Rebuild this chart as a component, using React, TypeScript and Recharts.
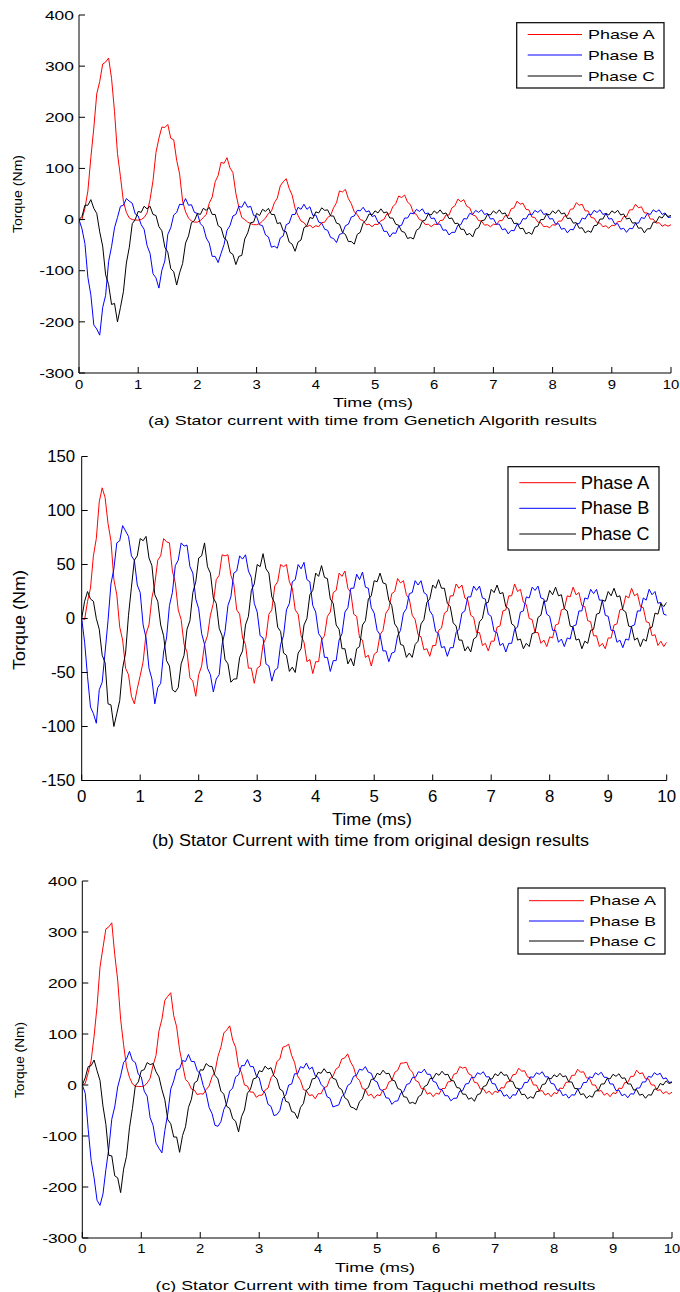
import React from 'react';
import { LineChart, Line, XAxis, YAxis } from 'recharts';

// sample instants, ms (one reading every 0.05 ms from 0 to 10)
const TIME_MS = Array.from({ length: 201 }, (_, i) => Math.round(i * 5) / 100);
const X_TICKS = [0, 1, 2, 3, 4, 5, 6, 7, 8, 9, 10];
const Y_TICKS_300 = [-300, -200, -100, 0, 100, 200, 300, 400];
const Y_TICKS_150 = [-150, -100, -50, 0, 50, 100, 150];
const PHASES = ['Phase A', 'Phase B', 'Phase C'];
const COLORS = ['#ff0000', '#0000ff', '#000000'];

// (a) Genetic algorithm, torque per sample
const GA_A = [
  0, 0, 22, 56, 121, 179, 246, 270, 304, 308, 316, 276, 211, 129, 84, 36, 14, 3, 0, -1,
  -1, 0, 4, 13, 39, 76, 131, 159, 181, 180, 186, 159, 156, 116, 89, 36, 15, 3, -3, -5,
  -5, -2, 4, 10, 32, 44, 74, 86, 112, 110, 121, 101, 92, 51, 24, 4, 0, -5, -8, -10,
  -10, -8, -3, 3, 12, 16, 33, 42, 66, 74, 80, 61, 48, 22, 8, -3, -6, -14, -11, -16,
  -12, -14, -6, -5, 4, 8, 23, 33, 56, 54, 59, 41, 31, 15, 10, 0, -2, -10, -9, -14,
  -9, -10, -2, 0, 11, 11, 25, 31, 46, 43, 48, 34, 29, 13, 10, 0, -2, -10, -9, -14,
  -9, -10, -2, -1, 9, 9, 23, 27, 40, 35, 39, 26, 23, 9, 7, -2, -3, -11, -10, -14,
  -9, -10, -2, -2, 8, 7, 21, 23, 36, 30, 32, 20, 19, 5, 4, -5, -6, -14, -13, -16,
  -10, -11, -3, -3, 7, 7, 20, 21, 33, 28, 30, 17, 17, 4, 3, -6, -7, -14, -12, -17,
  -11, -12, -4, -4, 6, 6, 19, 19, 30, 23, 25, 13, 13, 1, 1, -7, -6, -13, -10, -13,
  -10,
];
const GA_B = [
  0, -18, -47, -113, -147, -206, -214, -226, -172, -148, -82, -53, -16, 4, 26, 28, 41, 36, 32, 11,
  7, -10, -19, -51, -66, -106, -114, -134, -99, -81, -29, -16, 9, 14, 30, 29, 41, 28, 29, 14,
  12, -8, -14, -36, -46, -72, -72, -84, -66, -49, -21, -12, 7, 10, 26, 24, 35, 24, 26, 8,
  6, -10, -12, -30, -34, -54, -52, -56, -36, -32, -10, -7, 10, 10, 24, 20, 30, 20, 25, 8,
  9, -5, -7, -19, -21, -35, -37, -45, -29, -27, -12, -9, 5, 7, 18, 17, 24, 15, 17, 6,
  8, -5, -9, -23, -23, -34, -26, -27, -13, -11, 3, 3, 13, 11, 20, 16, 21, 11, 13, 2,
  3, -9, -9, -21, -20, -30, -25, -25, -11, -10, 2, 1, 12, 10, 18, 14, 19, 10, 12, 1,
  2, -9, -9, -20, -18, -28, -21, -22, -9, -9, 2, 1, 11, 9, 18, 14, 19, 10, 12, 1,
  2, -9, -8, -19, -17, -26, -19, -20, -8, -8, 3, 1, 11, 9, 18, 14, 19, 10, 12, 1,
  2, -9, -8, -19, -17, -25, -17, -18, -7, -7, 4, 2, 12, 10, 19, 15, 19, 10, 13, 4,
  5,
];
const GA_C = [
  0, 6, 28, 28, 39, 22, 12, -24, -52, -108, -127, -166, -164, -200, -172, -141, -85, -54, -8, 0,
  16, 14, 26, 21, 26, 10, 8, -14, -22, -54, -64, -96, -102, -128, -104, -86, -46, -32, -6, -2,
  12, 10, 22, 18, 24, 10, 10, -12, -16, -36, -41, -64, -68, -88, -72, -70, -38, -26, -6, -5,
  12, 8, 20, 16, 22, 10, 10, -8, -6, -22, -24, -44, -48, -62, -44, -40, -16, -12, 4, 2,
  15, 13, 23, 18, 19, 7, 7, -7, -9, -25, -29, -43, -43, -48, -29, -25, -7, -1, 11, 9,
  17, 13, 21, 13, 15, 3, 3, -9, -11, -23, -25, -37, -35, -38, -21, -17, -3, -1, 11, 9,
  17, 12, 19, 11, 13, 2, 3, -8, -7, -19, -19, -30, -27, -34, -19, -16, -2, -1, 10, 9,
  17, 12, 19, 11, 13, 2, 3, -8, -7, -18, -17, -28, -25, -29, -15, -13, 0, 0, 11, 9,
  17, 12, 19, 11, 13, 2, 3, -7, -6, -17, -16, -26, -22, -25, -12, -11, 1, 1, 12, 9,
  17, 13, 18, 9, 11, 1, 3, -7, -6, -17, -16, -26, -18, -18, -5, -5, 6, 3, 11, 6,
  8,
];

// (b) original design
const OD_A = [
  0, -1, 16, 28, 58, 74, 108, 121, 112, 88, 72, 36, 22, -8, -20, -46, -52, -72, -79, -65,
  -53, -40, -14, -6, 19, 32, 54, 58, 74, 71, 70, 44, 33, 8, -1, -24, -31, -55, -58, -72,
  -52, -44, -24, -16, 3, 14, 36, 40, 59, 58, 59, 40, 32, 8, 4, -18, -24, -46, -46, -60,
  -46, -44, -24, -18, 4, 8, 30, 34, 50, 48, 50, 34, 28, 8, 4, -16, -22, -40, -38, -51,
  -40, -40, -20, -16, 2, 6, 24, 26, 42, 39, 44, 28, 24, 4, 2, -18, -20, -36, -34, -44,
  -33, -31, -15, -11, 5, 9, 23, 25, 37, 33, 35, 22, 18, 3, -1, -15, -17, -29, -28, -35,
  -25, -25, -11, -9, 5, 7, 21, 21, 32, 28, 31, 19, 17, 3, 1, -13, -13, -25, -23, -30,
  -21, -21, -8, -7, 7, 8, 21, 21, 32, 25, 27, 15, 13, 0, -1, -13, -13, -23, -20, -26,
  -17, -18, -6, -5, 8, 9, 21, 20, 29, 22, 24, 12, 11, -2, -3, -16, -16, -26, -23, -28,
  -18, -18, -6, -5, 8, 9, 21, 19, 28, 21, 23, 11, 10, -3, -4, -16, -15, -25, -21, -26,
  -22,
];
const OD_B = [
  0, -22, -54, -82, -88, -97, -66, -59, -31, -2, 32, 46, 70, 72, 86, 81, 76, 58, 54, 31,
  24, -6, -18, -46, -56, -79, -64, -60, -31, -18, 12, 24, 49, 54, 70, 67, 68, 48, 42, 18,
  9, -14, -24, -46, -52, -68, -56, -52, -24, -12, 12, 20, 42, 44, 58, 55, 59, 44, 38, 14,
  6, -16, -18, -42, -44, -58, -48, -46, -24, -16, 8, 14, 34, 36, 50, 46, 52, 36, 34, 12,
  6, -14, -18, -36, -36, -49, -39, -39, -20, -14, 6, 10, 28, 28, 41, 36, 43, 29, 28, 10,
  5, -11, -15, -30, -30, -40, -32, -31, -16, -11, 5, 9, 23, 24, 35, 31, 35, 24, 22, 7,
  3, -12, -14, -27, -26, -35, -27, -27, -13, -10, 5, 7, 20, 20, 30, 26, 30, 19, 18, 4,
  2, -12, -13, -25, -23, -31, -23, -23, -10, -8, 6, 7, 20, 19, 29, 26, 30, 19, 18, 4,
  2, -11, -11, -22, -19, -26, -18, -19, -7, -6, 7, 7, 19, 18, 27, 23, 27, 17, 17, 3,
  2, -11, -11, -22, -20, -27, -19, -20, -7, -6, 7, 7, 19, 17, 27, 22, 25, 14, 15, 4,
  3,
];
const OD_C = [
  0, 16, 25, 18, 16, 0, -10, -34, -41, -79, -80, -100, -88, -76, -46, -32, 3, 29, 54, 58,
  74, 72, 76, 56, 49, 22, 16, -6, -16, -39, -44, -66, -68, -64, -42, -34, -10, -2, 24, 34,
  56, 58, 70, 48, 42, 19, 14, -9, -16, -38, -42, -59, -56, -56, -36, -30, -6, 2, 26, 32,
  50, 48, 60, 46, 42, 20, 14, -8, -12, -32, -34, -49, -45, -50, -32, -28, -6, 0, 22, 26,
  42, 39, 49, 38, 37, 18, 14, -6, -10, -28, -28, -42, -37, -44, -28, -26, -6, -2, 18, 21,
  35, 34, 42, 33, 32, 17, 12, -5, -9, -24, -25, -36, -32, -36, -24, -21, -5, -1, 15, 18,
  31, 28, 36, 28, 28, 14, 11, -4, -7, -20, -20, -30, -26, -31, -19, -17, -3, 0, 14, 15,
  27, 24, 31, 23, 24, 11, 9, -5, -7, -20, -19, -28, -23, -26, -14, -13, 1, 3, 16, 16,
  26, 22, 29, 21, 22, 9, 7, -7, -8, -20, -19, -28, -21, -23, -11, -10, 4, 5, 17, 16,
  25, 21, 28, 20, 21, 8, 6, -7, -8, -20, -18, -26, -19, -21, -9, -8, 5, 4, 14, 11,
  15,
];

// (c) Taguchi method
const TG_A = [
  0, 3, 24, 48, 96, 154, 231, 269, 306, 310, 318, 256, 206, 129, 79, 36, 15, 2, -2, -3,
  -3, -2, 4, 13, 39, 58, 106, 129, 166, 174, 181, 136, 114, 69, 40, 11, 5, -8, -10, -19,
  -17, -18, -9, -2, 16, 26, 56, 74, 102, 108, 116, 88, 74, 36, 24, 0, -2, -14, -14, -24,
  -20, -20, -10, -6, 14, 22, 46, 51, 74, 76, 80, 58, 44, 18, 9, -9, -11, -21, -19, -27,
  -17, -17, -5, -3, 13, 17, 31, 35, 51, 53, 61, 45, 35, 15, 9, -7, -9, -21, -18, -26,
  -19, -21, -9, -8, 6, 9, 25, 29, 43, 43, 45, 31, 25, 9, 6, -7, -7, -18, -15, -23,
  -16, -18, -7, -7, 6, 7, 21, 23, 36, 33, 35, 22, 19, 5, 4, -8, -7, -16, -12, -19,
  -12, -15, -5, -6, 6, 7, 20, 21, 33, 27, 28, 16, 14, 0, 0, -12, -11, -20, -16, -23,
  -15, -17, -6, -7, 5, 6, 19, 19, 31, 25, 26, 14, 13, 0, 0, -12, -11, -20, -16, -23,
  -15, -17, -6, -7, 5, 5, 17, 17, 29, 22, 24, 12, 12, 0, 0, -11, -9, -17, -13, -18,
  -14,
];
const TG_B = [
  0, -16, -87, -148, -182, -226, -236, -214, -166, -124, -67, -43, -4, 18, 44, 51, 66, 48, 44, 21,
  16, -12, -22, -64, -79, -114, -124, -133, -89, -56, -8, 8, 30, 32, 48, 46, 60, 46, 46, 28,
  22, -1, -16, -44, -56, -79, -81, -72, -48, -36, -12, -6, 16, 20, 38, 38, 50, 36, 36, 18,
  14, -10, -16, -38, -42, -60, -58, -50, -26, -20, 0, 2, 22, 22, 36, 33, 43, 31, 35, 18,
  15, 1, -5, -23, -26, -43, -41, -39, -23, -17, -1, 3, 17, 19, 31, 29, 36, 25, 23, 9,
  6, -9, -11, -25, -26, -38, -32, -31, -16, -13, 1, 3, 15, 15, 26, 24, 31, 21, 21, 7,
  5, -8, -9, -21, -21, -31, -26, -26, -12, -11, 2, 3, 15, 14, 24, 21, 26, 16, 16, 3,
  2, -11, -11, -22, -19, -27, -19, -20, -8, -7, 5, 5, 16, 15, 24, 21, 26, 16, 16, 3,
  2, -10, -10, -21, -18, -26, -19, -20, -8, -7, 5, 5, 16, 14, 24, 20, 25, 15, 15, 2,
  2, -11, -10, -21, -18, -25, -17, -18, -6, -6, 6, 6, 17, 15, 24, 20, 23, 12, 14, 5,
  6,
];
const TG_C = [
  0, 14, 36, 38, 49, 28, 9, -41, -77, -138, -139, -178, -182, -211, -165, -140, -84, -46, -1, 6,
  28, 30, 44, 40, 42, 26, 16, -9, -29, -68, -76, -102, -102, -132, -99, -82, -44, -28, 4, 8,
  30, 29, 42, 37, 36, 19, 12, -12, -18, -42, -46, -66, -71, -92, -62, -49, -16, -9, 12, 14,
  28, 26, 37, 31, 34, 18, 12, -8, -12, -32, -34, -52, -54, -66, -44, -36, -10, -6, 12, 13,
  25, 23, 32, 24, 25, 13, 11, -5, -9, -25, -29, -43, -45, -49, -33, -27, -9, -5, 11, 12,
  23, 20, 29, 22, 23, 10, 8, -7, -9, -23, -24, -36, -34, -37, -23, -19, -3, 0, 13, 13,
  23, 19, 27, 20, 21, 9, 8, -5, -6, -18, -18, -28, -25, -32, -19, -17, -3, -1, 12, 12,
  22, 18, 26, 19, 20, 8, 7, -6, -7, -19, -18, -27, -23, -26, -13, -12, 1, 2, 14, 12,
  20, 16, 23, 16, 18, 6, 6, -7, -7, -19, -17, -26, -21, -24, -12, -11, 2, 2, 13, 12,
  21, 17, 22, 13, 14, 2, 2, -10, -9, -20, -18, -26, -19, -20, -8, -8, 3, 0, 8, 3,
  5,
];

const FONT = '"Liberation Sans", Arial, Helvetica, sans-serif';

const AxisTick = (props: any) => {
  const { x, y, payload, size, sx, anchor } = props;
  return (
    <text
      x={0}
      y={0}
      transform={`translate(${x},${y}) scale(${sx},1)`}
      textAnchor={anchor}
      dominantBaseline="central"
      fontSize={size}
      fontFamily={FONT}
      fill="#000"
    >
      {payload.value}
    </text>
  );
};

interface PanelProps {
  top: number;
  height: number;
  margin: { top: number; right: number; bottom: number; left: number };
  yWidth: number;
  xHeight: number;
  yDomain: [number, number];
  yTicks: number[];
  series: number[][];
  yFont: number;
  ySx: number;
  yGap: number;
  xFont: number;
  xSx: number;
  xGap: number;
}

const Panel: React.FC<PanelProps> = (p) => {
  const data = TIME_MS.map((t, i) => ({ t, a: p.series[0][i], b: p.series[1][i], c: p.series[2][i] }));
  const keys = ['a', 'b', 'c'];
  return (
    <div style={{ position: 'absolute', left: 0, top: p.top }}>
      <LineChart width={680} height={p.height} data={data} margin={p.margin}>
        <XAxis
          dataKey="t"
          type="number"
          domain={[0, 10]}
          ticks={X_TICKS}
          interval={0}
          allowDataOverflow
          height={p.xHeight}
          stroke="#000"
          tickSize={-6}
          tickMargin={6 + p.xGap}
          tick={<AxisTick size={p.xFont} sx={p.xSx} anchor="middle" />}
        />
        <XAxis
          xAxisId="top"
          orientation="top"
          type="number"
          domain={[0, 10]}
          ticks={X_TICKS}
          interval={0}
          allowDataOverflow
          height={0}
          stroke="#000"
          tickSize={-6}
          tick={false}
        />
        <YAxis
          type="number"
          domain={p.yDomain}
          ticks={p.yTicks}
          interval={0}
          allowDataOverflow
          width={p.yWidth}
          stroke="#000"
          tickSize={-6}
          tickMargin={6 + p.yGap}
          tick={<AxisTick size={p.yFont} sx={p.ySx} anchor="end" />}
        />
        <YAxis
          yAxisId="right"
          orientation="right"
          type="number"
          domain={p.yDomain}
          ticks={p.yTicks}
          interval={0}
          allowDataOverflow
          width={0}
          stroke="#000"
          tickSize={-6}
          tick={false}
        />
        {keys.map((k, i) => (
          <Line
            key={k}
            dataKey={k}
            type="linear"
            stroke={COLORS[i]}
            strokeWidth={1}
            dot={false}
            activeDot={false}
            isAnimationActive={false}
          />
        ))}
      </LineChart>
    </div>
  );
};

const Legend = ({ x, y, w, h, rows, lineX1, lineX2, textX, textLen, size }: any) => (
  <g>
    <rect x={x} y={y} width={w} height={h} fill="#fff" stroke="#000" strokeWidth={1.2} />
    {PHASES.map((name, i) => (
      <g key={name}>
        <line x1={lineX1} x2={lineX2} y1={rows[i]} y2={rows[i]} stroke={COLORS[i]} strokeWidth={1} />
        <text
          x={textX}
          y={rows[i]}
          dominantBaseline="central"
          fontSize={size}
          fontFamily={FONT}
          textLength={textLen}
          lengthAdjust="spacingAndGlyphs"
        >
          {name}
        </text>
      </g>
    ))}
  </g>
);

const Label = ({ x, y, text, len, size, rotate }: any) => (
  <text
    x={x}
    y={y}
    textAnchor="middle"
    dominantBaseline="central"
    fontSize={size}
    fontFamily={FONT}
    textLength={len}
    lengthAdjust="spacingAndGlyphs"
    transform={rotate ? `rotate(-90 ${x} ${y})` : undefined}
  >
    {text}
  </text>
);

export default function App() {
  return (
    <div style={{ position: 'absolute', left: 0, top: 0, width: 680, height: 1292, background: '#fff', overflow: 'hidden' }}>
      <Panel
        top={0}
        height={400}
        margin={{ top: 15, right: 9, bottom: 0, left: 0 }}
        yWidth={79}
        xHeight={27}
        yDomain={[-300, 400]}
        yTicks={Y_TICKS_300}
        series={[GA_A, GA_B, GA_C]}
        yFont={13.5}
        ySx={1.29}
        yGap={5}
        xFont={13.5}
        xSx={1.1}
        xGap={11}
      />
      <Panel
        top={440}
        height={370}
        margin={{ top: 16.5, right: 13.3, bottom: 0, left: 0 }}
        yWidth={81.7}
        xHeight={29.5}
        yDomain={[-150, 150]}
        yTicks={Y_TICKS_150}
        series={[OD_A, OD_B, OD_C]}
        yFont={16}
        ySx={1.05}
        yGap={6.5}
        xFont={16}
        xSx={1.05}
        xGap={15.5}
      />
      <Panel
        top={860}
        height={405}
        margin={{ top: 21, right: 8, bottom: 0, left: 0 }}
        yWidth={82.3}
        xHeight={27}
        yDomain={[-300, 400]}
        yTicks={Y_TICKS_300}
        series={[TG_A, TG_B, TG_C]}
        yFont={13.5}
        ySx={1.29}
        yGap={5.3}
        xFont={13.5}
        xSx={1.1}
        xGap={10}
      />
      <svg width={680} height={1292} style={{ position: 'absolute', left: 0, top: 0, pointerEvents: 'none' }}>
        <Legend x={516.7} y={22.7} w={147.3} h={65.3} rows={[34.5, 55, 76]} lineX1={527.7} lineX2={582} textX={588} textLen={66.7} size={13.5} />
        <Label x={17} y={194} text="Torque (Nm)" len={78} size={13} rotate />
        <Label x={373} y={402} text="Time (ms)" len={80} size={13.5} />
        <Label x={372.5} y={420} text="(a) Stator current with time from Genetich Algorith results" len={449} size={13} />

        <Legend x={508} y={466.7} w={151} h={83.3} rows={[482.7, 508.3, 534]} lineX1={519.3} lineX2={576} textX={580.7} textLen={68.7} size={18} />
        <Label x={19.7} y={620} text="Torque (Nm)" len={100} size={17} rotate />
        <Label x={372} y={819} text="Time (ms)" len={80} size={17} />
        <Label x={370.5} y={840} text="(b) Stator Current with time from original design results" len={437} size={16} />

        <Legend x={518} y={888} w={147} h={66} rows={[900.7, 921, 941]} lineX1={529} lineX2={584} textX={589.3} textLen={66.7} size={13.5} />
        <Label x={19} y={1060} text="Torque (Nm)" len={76} size={13} rotate />
        <Label x={375} y={1267} text="Time (ms)" len={80} size={13.5} />
        <Label x={375.5} y={1285} text="(c) Stator Current with time from Taguchi method results" len={440} size={13} />
      </svg>
    </div>
  );
}
